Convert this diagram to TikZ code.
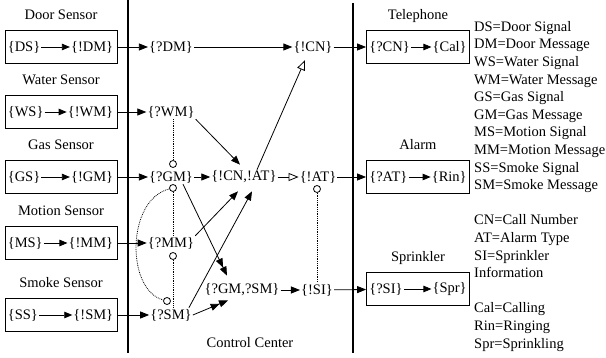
\documentclass[tikz,border=0pt]{standalone}
\usepackage{fontspec}
\setmainfont{Liberation Serif}
\usetikzlibrary{arrows.meta,positioning}
\newcommand\figfont{\fontsize{14.5}{17.6}\selectfont}
\tikzset{
  lbl/.style={inner sep=1pt, font=\figfont},
  ttl/.style={inner sep=0pt, font=\figfont, text height=10pt, text depth=3pt},
  blk/.style={draw, line width=0.8pt, minimum width=#1, minimum height=33pt, inner sep=0pt},
  blk/.default=112pt,
  arr/.style={-{Triangle[length=9pt,width=7pt]}, line width=0.8pt},
  sarr/.style={-{Triangle[length=8pt,width=6.5pt]}, line width=0.8pt},
  oarr/.style={-{Triangle[open,length=10pt,width=8pt]}, line width=0.8pt},
  darr/.style={-{Triangle[length=9pt,width=7pt] Triangle[length=9pt,width=7pt]}, line width=0.8pt},
  dotln/.style={densely dotted, line width=0.8pt},
  ring/.style={circle, draw, fill=white, inner sep=0pt, minimum size=7pt, line width=0.8pt},
  vline/.style={line width=1.1pt},
}
\begin{document}
\begin{tikzpicture}[x=1pt,y=-1pt]
  \useasboundingbox (0,0) rectangle (606,358);
  % dividers
  \draw[vline] (128,0) -- (128,353);
  \draw[vline] (353,3) -- (353,353);
  % sensors and their messages
  \foreach \nm/\ttlt/\sg/\ms/\y in {door/Door Sensor/DS/DM/47, water/Water Sensor/WS/WM/112,
      gas/Gas Sensor/GS/GM/177, motion/Motion Sensor/MS/MM/243, smoke/Smoke Sensor/SS/SM/315} {
    \node[blk] (\nm) at (61,\y) {};
    \node[ttl, above=7pt of \nm] (\nm-t) {\ttlt};
    \node[lbl, anchor=west] (\nm-s) at ([xshift=2pt]\nm.west) {\{\sg\}};
    \node[lbl, anchor=east] (\nm-m) at ([xshift=-3pt]\nm.east) {\{!\ms\}};
    \draw[sarr] (\nm-s) -- (\nm-m);
    \node[lbl] (q\ms) at (171,\y) {\{?\ms\}};
    \draw[arr] (\nm) -- (q\ms);
  }
  % control center
  \node[lbl] (cn) at (313,47) {\{!CN\}};
  \node[lbl] (cnat) at (244,177) {\{!CN,!AT\}};
  \node[lbl] (at) at (318,177) {\{!AT\}};
  \node[lbl] (gmsm) at (242,290) {\{?GM,?SM\}};
  \node[lbl] (si) at (317,290) {\{!SI\}};
  \node[lbl] (cc) at (250,343) {Control Center};
  \node[ring] (r1) at (173,164) {};
  \node[ring] (r2) at (173,188) {};
  \node[ring] (r3) at (173,256) {};
  \node[ring] (r4) at (167,301) {};
  \node[ring] (r5) at (317,189) {};
  \draw[arr] (qDM) -- (cn);
  \draw[arr] (qWM.south east) -- ([xshift=-4pt,yshift=5pt]cnat.north);
  \draw[arr] (qGM) -- (cnat);
  \draw[oarr] (cnat) -- (at);
  \draw[oarr] ([xshift=13pt]cnat.north) -- ([xshift=-8pt,yshift=-6pt]cn.south);
  \draw[darr] ([xshift=12pt]qGM.south) -- ([xshift=-15pt,yshift=7pt]gmsm.north);
  \draw[arr] (qMM.north east) -- ([xshift=-6pt,yshift=-7pt]cnat.south);
  \draw[arr] ([xshift=-4pt]qSM.north east) -- ([xshift=8pt,yshift=-7pt]cnat.south);
  \draw[darr] (qSM.east) -- ([xshift=-14pt,yshift=-3pt]gmsm.south);
  \draw[arr] (gmsm) -- (si);
  \draw[dotln] ([xshift=2pt]qWM.south) -- (r1);
  \draw[dotln] (r2) -- ([xshift=2pt]qMM.north);
  \draw[dotln] (r3) -- ([xshift=2pt]qSM.north);
  \draw[dotln] (r2) .. controls (126,200) and (126,290) .. (r4);
  \draw[dotln] (r5) -- (si);
  % actuators
  \foreach \nm/\ttlt/\inp/\outp/\y in {tel/Telephone/CN/Cal/47, alarm/Alarm/AT/Rin/177, spr/Sprinkler/SI/Spr/289} {
    \node[blk=103pt] (\nm) at (418,\y) {};
    \node[ttl, above=7pt of \nm] (\nm-t) {\ttlt};
    \node[lbl, anchor=west] (\nm-i) at ([xshift=2pt]\nm.west) {\{?\inp\}};
    \node[lbl, anchor=east] (\nm-o) at ([xshift=-2pt]\nm.east) {\{\outp\}};
    \draw[sarr] (\nm-i) -- (\nm-o);
  }
  \draw[arr] (cn) -- (tel);
  \draw[arr] (at) -- (alarm);
  \draw[arr] (si) -- (spr);
  % abbreviations
  \node[lbl, anchor=north west, align=left] (legend) at (473,20)
    {DS=Door Signal\\ DM=Door Message\\ WS=Water Signal\\ WM=Water Message\\
     GS=Gas Signal\\ GM=Gas Message\\ MS=Motion Signal\\ MM=Motion Message\\
     SS=Smoke Signal\\ SM=Smoke Message\\[17.6pt]
     CN=Call Number\\ AT=Alarm Type\\ SI=Sprinkler\\ Information\\[17.6pt]
     Cal=Calling\\ Rin=Ringing\\ Spr=Sprinkling};
\end{tikzpicture}
\end{document}
